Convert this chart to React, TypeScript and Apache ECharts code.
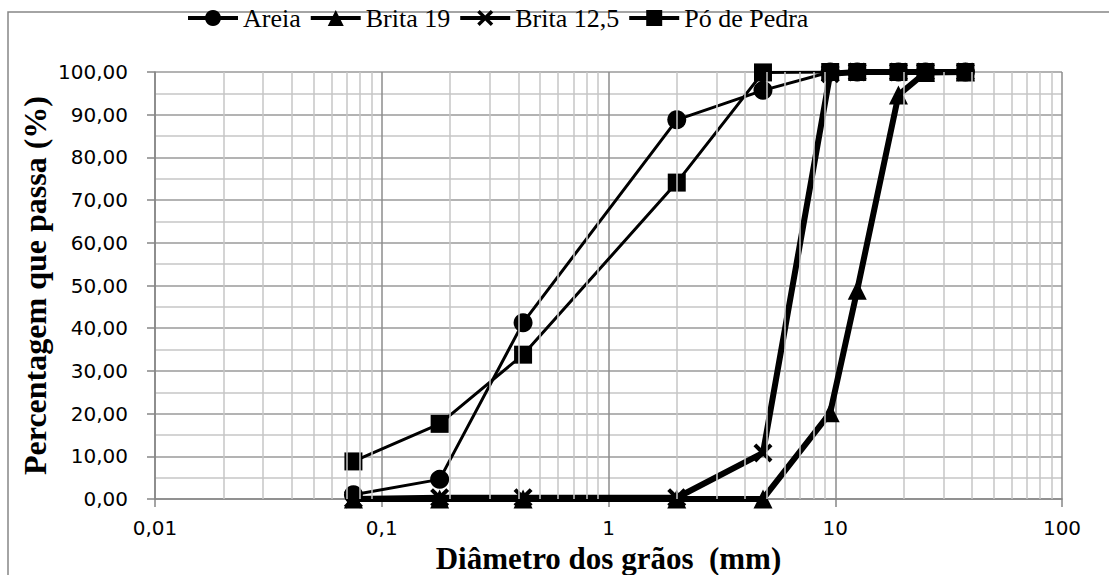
import React, { useEffect, useRef } from "react";
import * as echarts from "echarts";

const sieveSizes = [0.075, 0.18, 0.42, 2.0, 4.8, 9.5, 12.5, 19, 25, 37.5];
const areia = [1.0, 4.6, 41.3, 88.8, 95.7, 100, 100, 100, 100, 100];
const brita19 = [0, 0, 0, 0, 0, 20.2, 48.9, 94.6, 99.9, 100];
const brita125 = [0, 0.3, 0.3, 0.3, 10.8, 99.6, 100, 100, 100, 100];
const poDePedra = [8.8, 17.6, 33.8, 74.1, 99.9, 100, 100, 100, 100, 100];
const seriesNames = ["Areia", "Brita 19", "Brita 12,5", "Pó de Pedra"];
const decades = [0.01, 0.1, 1, 10];
const minorMultipliers = [2, 3, 4, 5, 6, 7, 8, 9];

const xSymbol =
  "path://M0,3 L3,0 L10,7 L17,0 L20,3 L13,10 L20,17 L17,20 L10,13 L3,20 L0,17 L7,10 Z";

const pairs = (ys: number[]) => sieveSizes.map((x, i) => [x, ys[i]]);

export default function App() {
  const ref = useRef<HTMLDivElement>(null);
  useEffect(() => {
    if (!ref.current) return;
    const chart = echarts.init(ref.current, undefined, { renderer: "svg" });
    const minorLines: any[] = [];
    decades.forEach((d) =>
      minorMultipliers.forEach((m) => minorLines.push({ xAxis: +(d * m).toPrecision(3) }))
    );
    const base = {
      type: "line",
      color: "#000",
      showAllSymbol: true,
      z: 3,
    };
    chart.setOption({
      animation: false,
      backgroundColor: "#fff",
      graphic: [
        {
          type: "rect",
          shape: { x: 8, y: 12, width: 1130, height: 600 },
          style: { fill: "none", stroke: "#868686", lineWidth: 1.5 },
          silent: true,
          z: -1,
        },
      ],
      legend: {
        data: seriesNames,
        left: 181,
        top: 0,
        itemWidth: 50,
        itemHeight: 20,
        itemGap: 8,
        lineStyle: { width: 4 },
        textStyle: { fontFamily: "Liberation Serif", fontSize: 26, color: "#000" },
      },
      grid: {
        left: 155,
        right: 47,
        top: 72,
        bottom: 76,
        containLabel: false,
        outerBoundsMode: "none",
      },
      xAxis: {
        type: "log",
        logBase: 10,
        min: 0.01,
        max: 100,
        name: "Diâmetro dos grãos  (mm)",
        nameLocation: "middle",
        nameGap: 44,
        nameMoveOverlap: false,
        nameTextStyle: {
          fontFamily: "Liberation Serif",
          fontWeight: "bold",
          fontSize: 31,
          lineHeight: 30,
          color: "#000",
        },
        axisLine: { lineStyle: { color: "#868686", width: 1.5 } },
        axisTick: { show: true, length: 8, lineStyle: { color: "#868686", width: 1.5 } },
        axisLabel: {
          margin: 19,
          fontFamily: "DejaVu Sans",
          fontSize: 20,
          color: "#000",
          formatter: (v: number) => String(+v.toPrecision(3)).replace(".", ","),
        },
        splitLine: { show: true, lineStyle: { color: "#8c8c8c", width: 1.5 } },
      },
      yAxis: {
        type: "value",
        min: 0,
        max: 100,
        interval: 10,
        name: "Percentagem que passa (%)",
        nameLocation: "middle",
        nameGap: 104,
        nameMoveOverlap: false,
        nameTextStyle: {
          fontFamily: "Liberation Serif",
          fontWeight: "bold",
          fontSize: 32,
          color: "#000",
        },
        axisLine: { show: true, lineStyle: { color: "#868686", width: 1.5 } },
        axisTick: { show: true, length: 8, lineStyle: { color: "#868686", width: 1.5 } },
        axisLabel: {
          margin: 27,
          fontFamily: "DejaVu Sans",
          fontSize: 20,
          color: "#000",
          formatter: (v: number) => v.toFixed(2).replace(".", ","),
        },
        splitLine: { show: true, lineStyle: { color: "#9a9a9a", width: 1.5 } },
        minorTick: { show: false, splitNumber: 2 },
        minorSplitLine: { show: true, lineStyle: { color: "#c6c6c6", width: 1.5 } },
      },
      series: [
        {
          type: "line",
          name: "__grid",
          data: [],
          z: 1,
          silent: true,
          markLine: {
            silent: true,
            symbol: "none",
            label: { show: false },
            lineStyle: { color: "#c6c6c6", width: 1.5, type: "solid" },
            data: minorLines,
          },
        },
        {
          ...base,
          name: "Areia",
          data: pairs(areia),
          symbol: "circle",
          symbolSize: 19,
          lineStyle: { width: 3, color: "#000" },
          itemStyle: { color: "#000" },
        },
        {
          ...base,
          name: "Brita 19",
          data: pairs(brita19),
          symbol: "triangle",
          symbolSize: 19,
          lineStyle: { width: 6, color: "#000" },
          itemStyle: { color: "#000" },
        },
        {
          ...base,
          name: "Brita 12,5",
          data: pairs(brita125),
          symbol: xSymbol,
          symbolSize: 19,
          lineStyle: { width: 6, color: "#000" },
          itemStyle: { color: "#000" },
        },
        {
          ...base,
          name: "Pó de Pedra",
          data: pairs(poDePedra),
          symbol: "rect",
          symbolSize: 18,
          lineStyle: { width: 3, color: "#000" },
          itemStyle: { color: "#000" },
        },
      ],
    });
    return () => chart.dispose();
  }, []);
  return (
    <div
      style={{
        position: "fixed",
        left: 0,
        top: 0,
        width: 1109,
        height: 575,
        overflow: "hidden",
      }}
    >
      <div ref={ref} style={{ width: 1109, height: 575 }} />
    </div>
  );
}
